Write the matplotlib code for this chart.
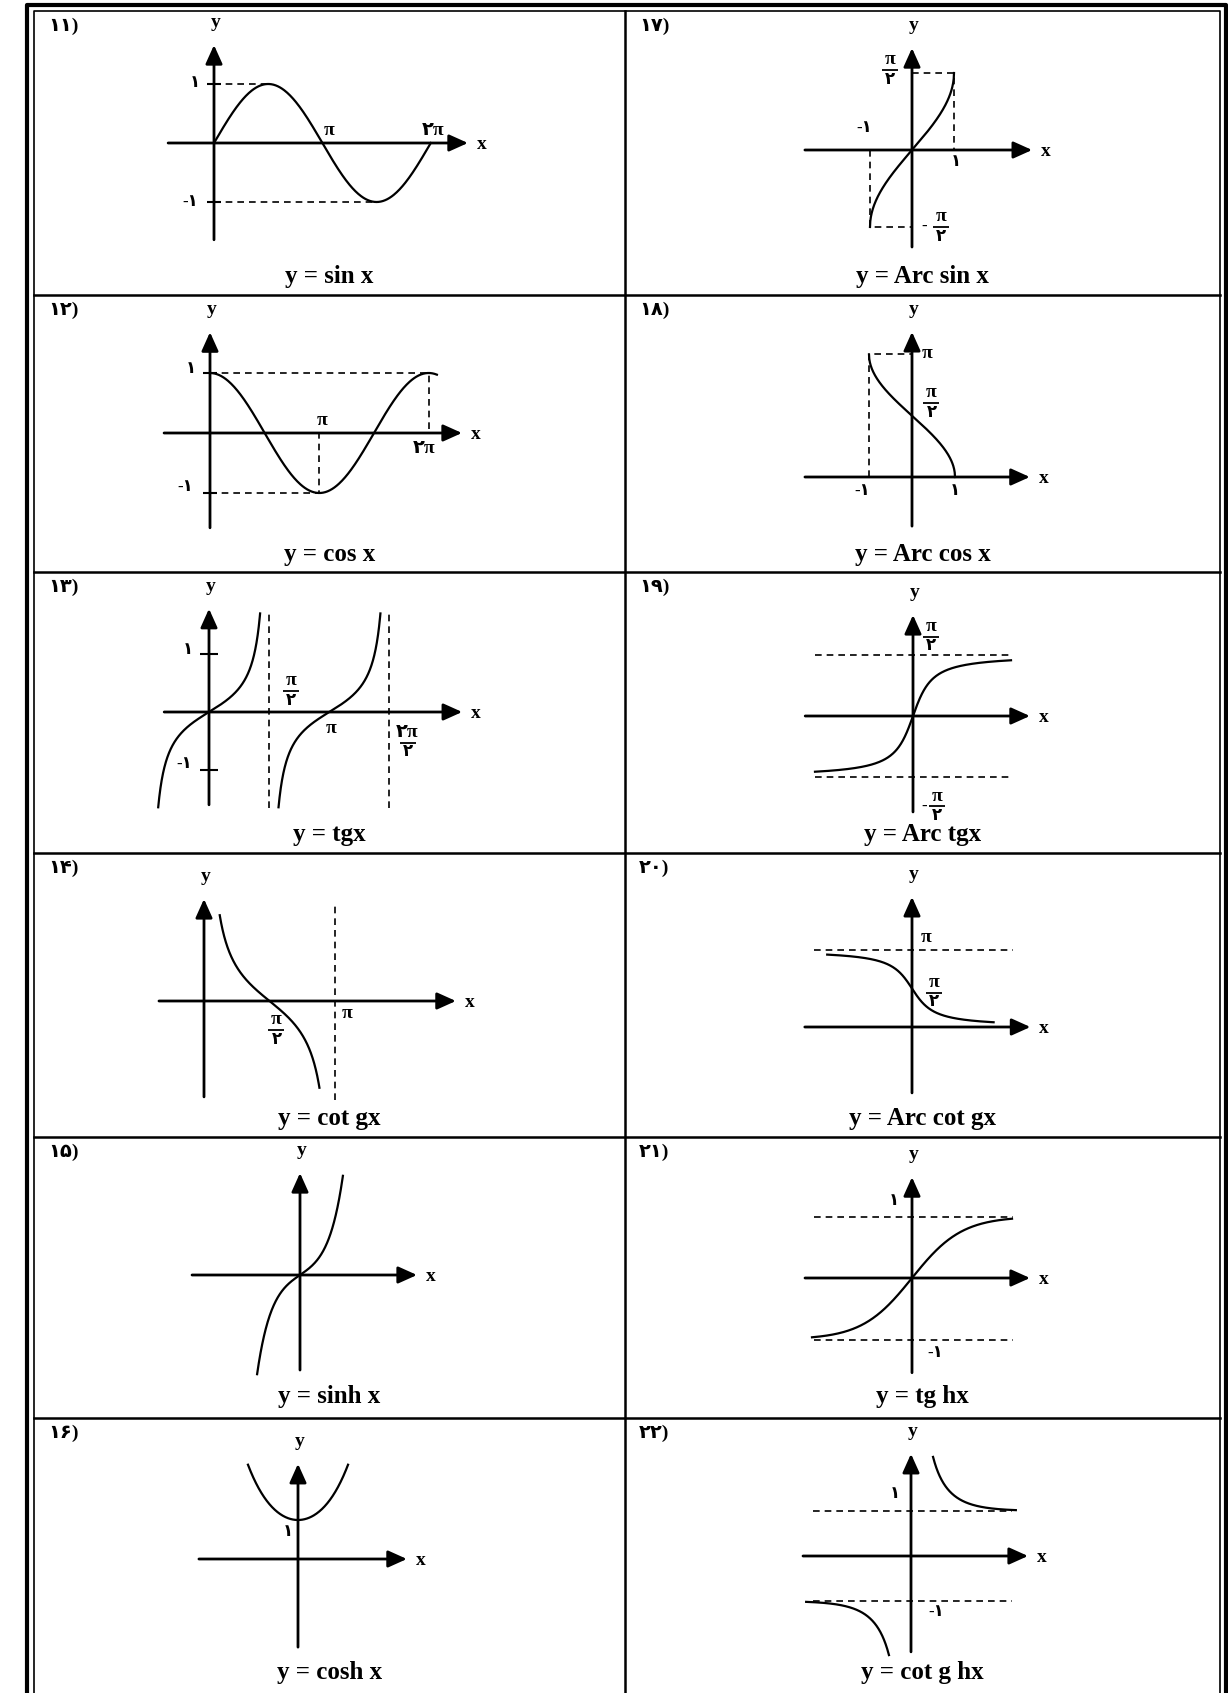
import numpy as np
import matplotlib.pyplot as plt
from matplotlib import transforms

W, H = 1228, 1693
plt.rcParams['font.family'] = ['Liberation Serif', 'DejaVu Sans']

# page grid (pixels)
col_edges = [34, 625, 1220]
row_edges = [11, 295, 572, 853, 1137, 1418, 1693]

# cell numbers and captions: left column top->bottom, then right column
numbers = ['۱۱)', '۱۲)', '۱۳)', '۱۴)', '۱۵)', '۱۶)',
           '۱۷)', '۱۸)', '۱۹)', '۲۰)', '۲۱)', '۲۲)']
captions = ['y = sin x', 'y = cos x', 'y = tgx', 'y = cot gx', 'y = sinh x', 'y = cosh x',
            'y = Arc sin x', 'y = Arc cos x', 'y = Arc tgx', 'y = Arc cot gx', 'y = tg hx', 'y = cot g hx']

# domains of the drawn curves
sin_dom = (0, 2 * np.pi)
cos_dom = (0, 6.52)
tan_branches = [(-np.pi / 2, np.pi / 2), (np.pi / 2, 3 * np.pi / 2)]
tan_squeeze = 0.41
tan_clip = (-1.66, 1.71)
cot_dom = (0.05, np.pi - 0.05)
cot_clip = (-2.56, 2.53)
sinh_dom = (-3.0, 3.0)
cosh_dom = (-1.53, 1.53)
asin_dom = (-1, 1)
acos_dom = (-1, 1)
atan_dom = (-7.0, 7.0)
acot_dom = (-5.3, 5.1)
tanh_dom = (-2.0, 2.0)
coth_dom = (0.49, 2.33)

curve = dict(color='black', lw=1.6)

fig = plt.figure(figsize=(W / 100, H / 100), dpi=100)

# page frame
frame = fig.add_axes([0, 0, 1, 1])
frame.set_xlim(0, W)
frame.set_ylim(H, 0)
frame.axis('off')
frame.plot([col_edges[0] - 7] * 2 + [col_edges[-1] + 6] * 2, [H, row_edges[0] - 6, row_edges[0] - 6, H],
           color='black', lw=3)
frame.plot([col_edges[0]] * 2 + [col_edges[-1]] * 2, [H, row_edges[0], row_edges[0], H], color='black', lw=1.2)
frame.plot([col_edges[1]] * 2, [row_edges[0], H], color='black', lw=1.8)
for yy in row_edges[1:-1]:
    frame.plot([col_edges[0], col_edges[-1]], [yy, yy], color='black', lw=1.8)

for i, (num, cap) in enumerate(zip(numbers, captions)):
    c, r = divmod(i, 6)
    frame.text(col_edges[c] + 14, row_edges[r] + 15, num, ha='left', va='center',
               fontsize=14, fontweight='bold')
    off = 21 if r >= 4 else 18
    frame.text((col_edges[c] + col_edges[c + 1]) / 2, row_edges[r + 1] - off, cap,
               ha='center', va='center', fontsize=18, fontweight='bold')


def cell_axes(col, row, origin, scale):
    L, R = col_edges[col], col_edges[col + 1]
    T, B = row_edges[row], row_edges[row + 1]
    ax = fig.add_axes([L / W, 1 - B / H, (R - L) / W, (B - T) / H])
    ox, oy = origin
    sx, sy = scale
    ax.set_xlim((L - ox) / sx, (R - ox) / sx)
    ax.set_ylim((oy - B) / sy, (oy - T) / sy)
    ax.axis('off')
    return ax


def lab(ax, x, y, s, dx=0, dy=0, size=12):
    if 'π' in s:
        size += 2
    ax.annotate(s, (x, y), xytext=(dx, dy), textcoords='offset points',
                ha='center', va='center', fontsize=size, fontweight='bold')


def frac(ax, x, y, dx, dy, num='π', den='۲', size=12):
    lab(ax, x, y, num, dx, dy + 7.5, size)
    lab(ax, x, y, den, dx, dy - 7, size)
    tr = transforms.offset_copy(ax.transData, fig=fig, x=dx, y=dy, units='points')
    ax.plot([x], [y], marker='_', ms=12, mew=1.3, color='black', transform=tr)


def axes_arrows(ax, xr, yr):
    style = dict(arrowstyle='-|>,head_length=0.6,head_width=0.27', color='black', lw=2.0,
                 mutation_scale=19, shrinkA=0, shrinkB=0)
    ax.annotate('', xy=(xr[1], 0), xytext=(xr[0], 0), arrowprops=style)
    ax.annotate('', xy=(0, yr[1]), xytext=(0, yr[0]), arrowprops=style)
    lab(ax, xr[1], 0, 'x', 10, -1, 14)
    lab(ax, 0, yr[1], 'y', 1, 16, 14)


def dashed(ax, xs, ys):
    ax.plot(xs, ys, color='black', lw=1.2, ls=(0, (4, 3)))


def ticks(ax, ys, ms=10):
    ax.plot([0] * len(ys), ys, ls='none', marker='_', ms=ms, mew=1.5, color='black')


# 11) sin
ax = cell_axes(0, 0, (214, 143), (34.5, 59))
axes_arrows(ax, (-1.33, 7.36), (-1.64, 1.66))
x = np.linspace(*sin_dom, 300)
ax.plot(x, np.sin(x), **curve)
dashed(ax, [0, np.pi / 2], [1, 1])
dashed(ax, [0, 3 * np.pi / 2], [-1, -1])
ticks(ax, [1, -1])
lab(ax, 0, 1, '۱', -14, 1)
lab(ax, 0, -1, '-۱', -17, 0)
lab(ax, np.pi, 0, 'π', 5, 9)
lab(ax, 2 * np.pi, 0, '۲π', 2, 9)

# 12) cos
ax = cell_axes(0, 1, (210, 433), (34.8, 60))
axes_arrows(ax, (-1.32, 7.24), (-1.58, 1.68))
x = np.linspace(*cos_dom, 300)
ax.plot(x, np.cos(x), **curve)
dashed(ax, [0, 2 * np.pi, 2 * np.pi], [1, 1, 0])
dashed(ax, [0, np.pi, np.pi], [-1, -1, 0])
ticks(ax, [1, -1])
lab(ax, 0, 1, '۱', -14, 3)
lab(ax, 0, -1, '-۱', -18, 4)
lab(ax, np.pi, 0, 'π', 2, 9)
lab(ax, 2 * np.pi, 0, '۲π', -3, -11)

# 13) tan
ax = cell_axes(0, 2, (209, 712), (38.3, 58))
axes_arrows(ax, (-1.17, 6.61), (-1.60, 1.78))
for a, b in tan_branches:
    x = np.linspace(a + 1e-3, b - 1e-3, 800)
    y = tan_squeeze * np.tan(x)
    keep = (y >= tan_clip[0]) & (y <= tan_clip[1])
    ax.plot(x[keep], y[keep], **curve)
for xa in (np.pi / 2, 3 * np.pi / 2):
    dashed(ax, [xa, xa], tan_clip)
ticks(ax, [1, -1], ms=13)
lab(ax, 0, 1, '۱', -15, 3)
lab(ax, 0, -1, '-۱', -18, 4)
frac(ax, np.pi / 2, 0, 16, 15)
lab(ax, np.pi, 0, 'π', 1, -12)
frac(ax, 3 * np.pi / 2, 0, 13, -22, num='۲π')

# 14) cot
ax = cell_axes(0, 3, (204, 1001), (41.7, 34))
axes_arrows(ax, (-1.08, 6.04), (-2.82, 3.0))
x = np.linspace(*cot_dom, 800)
y = 1 / np.tan(x)
keep = (y >= cot_clip[0]) & (y <= cot_clip[1])
ax.plot(x[keep], y[keep], **curve)
dashed(ax, [np.pi, np.pi], [-2.91, 2.88])
frac(ax, np.pi / 2, 0, 5, -21)
lab(ax, np.pi, 0, 'π', 9, -9)

# 15) sinh
ax = cell_axes(0, 4, (300, 1275), (14.3, 9.9))
axes_arrows(ax, (-7.55, 8.18), (-9.6, 10.3))
x = np.linspace(*sinh_dom, 300)
ax.plot(x, np.sinh(x), **curve)

# 16) cosh
ax = cell_axes(0, 5, (298, 1559), (32.7, 39))
axes_arrows(ax, (-3.03, 3.33), (-2.26, 2.44))
x = np.linspace(*cosh_dom, 300)
ax.plot(x, np.cosh(x), **curve)
lab(ax, 0, 1, '۱', -7, -9)

# 17) arcsin
ax = cell_axes(1, 0, (912, 150), (42, 49))
axes_arrows(ax, (-2.55, 2.86), (-1.98, 2.08))
x = np.linspace(*asin_dom, 300)
ax.plot(x, np.arcsin(x), **curve)
dashed(ax, [0, 1, 1], [np.pi / 2, np.pi / 2, 0])
dashed(ax, [-1, -1, 0], [0, -np.pi / 2, -np.pi / 2])
frac(ax, 0, np.pi / 2, -16, 2)
lab(ax, -1, 0, '-۱', -4, 16)
lab(ax, 1, 0, '۱', 1, -9)
lab(ax, 0, -np.pi / 2, '-', 9, 0)
frac(ax, 0, -np.pi / 2, 21, 0)

# 18) arccos
ax = cell_axes(1, 1, (912, 477), (43, 39))
axes_arrows(ax, (-2.49, 2.74), (-1.26, 3.72))
x = np.linspace(*acos_dom, 300)
ax.plot(x, np.arccos(x), **curve)
dashed(ax, [-1, -1, 0], [0, np.pi, np.pi])
lab(ax, 0, np.pi, 'π', 11, 1)
frac(ax, 0, np.pi / 2, 14, 9)
lab(ax, -1, 0, '-۱', -5, -10)
lab(ax, 1, 0, '۱', 0, -10)

# 19) arctan
ax = cell_axes(1, 2, (913, 716), (14, 39))
axes_arrows(ax, (-7.7, 8.35), (-2.46, 2.59))
x = np.linspace(*atan_dom, 300)
ax.plot(x, np.arctan(x), **curve)
dashed(ax, [-7.0, 7.15], [np.pi / 2] * 2)
dashed(ax, [-7.0, 7.15], [-np.pi / 2] * 2)
frac(ax, 0, np.pi / 2, 13, 13)
lab(ax, 0, -np.pi / 2, '-', 8, -21)
frac(ax, 0, -np.pi / 2, 17, -21)

# 20) arccot
ax = cell_axes(1, 3, (912, 1027), (16, 24.5))
axes_arrows(ax, (-6.7, 7.4), (-2.69, 5.31))
x = np.linspace(*acot_dom, 300)
ax.plot(x, np.pi / 2 - np.arctan(x), **curve)
dashed(ax, [-6.1, 6.3], [np.pi, np.pi])
lab(ax, 0, np.pi, 'π', 10, 9)
frac(ax, 0, np.pi / 2, 16, -3)

# 21) tanh
ax = cell_axes(1, 4, (912, 1278), (50, 61.5))
axes_arrows(ax, (-2.14, 2.36), (-1.54, 1.64))
x = np.linspace(*tanh_dom, 300)
ax.plot(x, np.tanh(x), **curve)
dashed(ax, [-1.96, 2.02], [1, 1])
dashed(ax, [-1.96, 2.02], [-1, -1])
lab(ax, 0, 1, '۱', -13, 11)
lab(ax, 0, -1, '-۱', 17, -10)

# 22) coth
ax = cell_axes(1, 5, (911, 1556), (45, 45))
axes_arrows(ax, (-2.4, 2.6), (-2.13, 2.27))
x = np.linspace(*coth_dom, 300)
ax.plot(x, 1 / np.tanh(x), **curve)
ax.plot(-x, -1 / np.tanh(x), **curve)
dashed(ax, [-2.18, 2.24], [1, 1])
dashed(ax, [-2.18, 2.24], [-1, -1])
lab(ax, 0, 1, '۱', -12, 12)
lab(ax, 0, -1, '-۱', 18, -8)

fig.savefig('out.png', dpi=100)
